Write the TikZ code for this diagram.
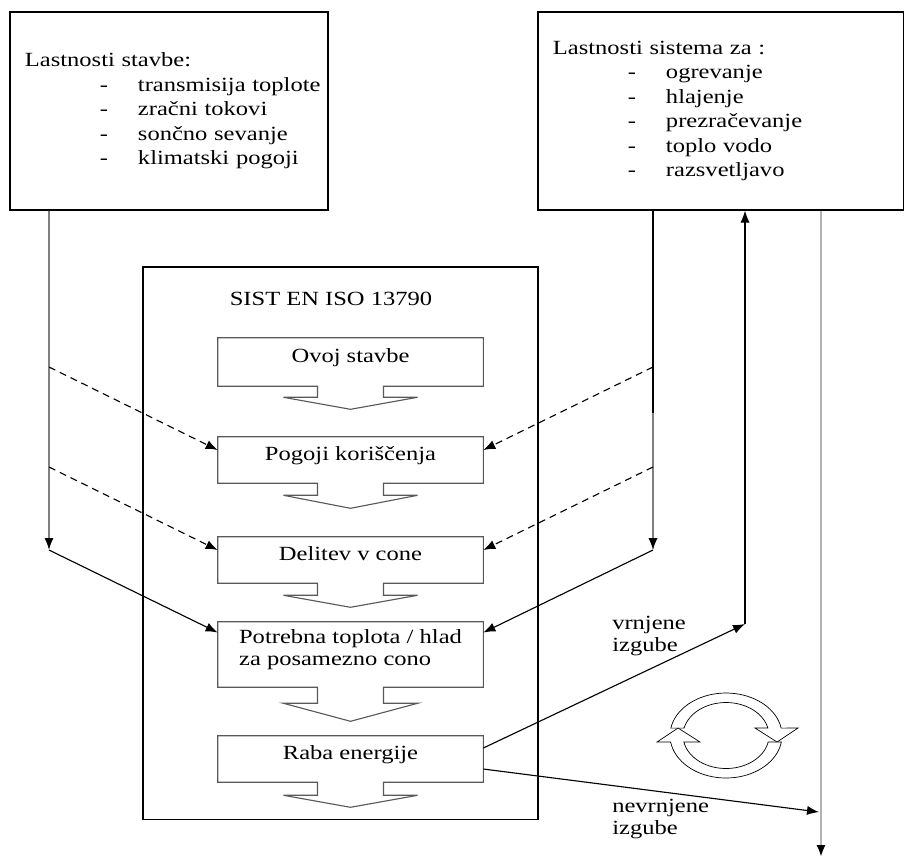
\documentclass[tikz,border=0pt]{standalone}
\usepackage{fontspec}
\setmainfont{Liberation Serif}[FakeStretch=1.22]
\usetikzlibrary{arrows.meta, calc}

\newcommand{\alineja}[1]{\hspace*{1.875cm}\makebox[0.95cm][l]{-}\mbox{#1}}

\begin{document}
\begin{tikzpicture}[x=0.025cm, y=-0.025cm,
    font=\fontsize{14.3}{17.4}\selectfont,
    infobox/.style={rectangle, draw, line width=0.8pt, inner xsep=0.375cm, inner ysep=0pt, align=left, minimum height=4.95cm},
    korak/.style={rectangle, minimum width=6.625cm, minimum height=1.15cm, inner sep=0pt, text height=6pt, text depth=6pt},
    oznaka/.style={anchor=north west, inner sep=0pt, align=left, font=\fontsize{14.3}{15.4}\selectfont},
    tok/.style={line width=0.8pt},
    crtkano/.style={tok, dash pattern=on 1.75mm off 1.25mm},
    >={Latex[length=3mm, width=2.3mm]}
  ]
  \useasboundingbox (0,0) rectangle (905,858);

  % vhodni podatki
  \node[infobox, text width=7.2cm] (lbox) at (169,111) {Lastnosti stavbe:\\
    \alineja{transmisija toplote}\\
    \alineja{zračni tokovi}\\
    \alineja{sončno sevanje}\\
    \alineja{klimatski pogoji}};
  \node[infobox, text width=8.375cm] (rbox) at (720.5,111) {Lastnosti sistema za :\\
    \alineja{ogrevanje}\\
    \alineja{hlajenje}\\
    \alineja{prezračevanje}\\
    \alineja{toplo vodo}\\
    \alineja{razsvetljavo}};

  % standard
  \node[draw, line width=0.8pt, minimum width=9.875cm, minimum height=13.8cm] (cbox) at (340.5,543) {};
  \node[anchor=base] (naslov) at (331,305) {SIST EN ISO 13790};
  \node[korak, minimum height=1.2cm] (ovoj) at (350.5,362) {Ovoj stavbe};
  \node[korak] (pogoji) at (350.5,460) {Pogoji koriščenja};
  \node[korak] (delitev) at (350.5,560) {Delitev v cone};
  \node[korak, minimum height=1.625cm, align=left, text height=, text depth=10pt,
        font=\fontsize{14.3}{15.4}\selectfont] (potrebna) at (350.5,654.5) {Potrebna toplota / hlad\\za posamezno cono};
  \node[korak] (raba) at (350.5,759) {Raba energije};

  % okvirji s puscicami
  \foreach \n/\s/\d in {ovoj/11/23, pogoji/12/25, delitev/12/24, potrebna/16/34, raba/13/25}
    \draw[line width=0.8pt, draw=black!65] (\n.south west) -- (\n.north west) -- (\n.north east) -- (\n.south east)
      -- ($(\n.south)+(33,0)$) -- ++(0,\s) -- ++(34,0) -- ($(\n.south)+(0,\d)$)
      -- ($(\n.south)+(-67,\s)$) -- ++(34,0) -- ($(\n.south)+(-33,0)$) -- cycle;

  \coordinate (l1) at (49,367);
  \coordinate (l2) at (49,467);
  \coordinate (l3) at (49,550);
  \coordinate (d1) at (653,367);
  \coordinate (d2) at (653,467);
  \coordinate (d3) at (653,550);
  \coordinate (vr) at (745,624);
  \coordinate (nv) at (819,812);
  \coordinate (dno) at (821,857);

  % leva stran
  \draw[line width=1.1pt, draw=black!50, -{Latex[length=3mm, width=2.3mm, color=black]}] (lbox.south -| l3) -- (l3);
  \draw[crtkano, ->] (l1) -- ($(pogoji.west)+(0,-10)$);
  \draw[crtkano, ->] (l2) -- ($(delitev.west)+(0,-10)$);
  \draw[tok, ->] (l3) -- ($(potrebna.west)+(0,-22)$);

  % desna stran
  \draw[tok, draw=black!50, -{Latex[length=3mm, width=2.3mm, color=black]}] (rbox.south -| d3) -- (d3);
  \draw[tok] (rbox.south -| d1) -- ($(d1)+(0,46)$);
  \draw[crtkano, ->] (d1) -- ($(pogoji.east)+(0,-10)$);
  \draw[crtkano, ->] (d2) -- ($(delitev.east)+(0,-10)$);
  \draw[tok, ->] (d3) -- ($(potrebna.east)+(0,-22)$);

  % izgube
  \draw[tok, ->] ($(raba.east)+(0,-11)$) -- (vr);
  \draw[tok, ->] (vr) -- (rbox.south -| vr);
  \draw[tok, ->] ($(raba.east)+(0,10)$) -- (nv);
  \draw[line width=1.8pt, draw=black!30, -{Latex[length=3mm, width=2.3mm, color=black]}] (rbox.south -| dno) -- (dno);
  \node[oznaka] (vrnjene) at (612,616) {vrnjene\\izgube};
  \node[oznaka] (nevrnjene) at (612,799) {nevrnjene\\izgube};

  % krozenje
  \draw[line width=0.5pt, fill=white]
    plot[domain=190:350, samples=40] ({726+56*cos(\x)},{735.5+42.5*sin(\x)})
    -- (798,728) -- (777,742) -- (755,728)
    -- plot[domain=347:193, samples=40] ({726+43*cos(\x)},{735.5+33*sin(\x)}) -- cycle;
  \draw[line width=0.5pt, fill=white]
    plot[domain=8.8:171.2, samples=40] ({726+56*cos(\x)},{735.5+42.5*sin(\x)})
    -- (657,742) -- (678,728) -- (700,742)
    -- plot[domain=168.6:11.4, samples=40] ({726+43*cos(\x)},{735.5+33*sin(\x)}) -- cycle;
\end{tikzpicture}
\end{document}
